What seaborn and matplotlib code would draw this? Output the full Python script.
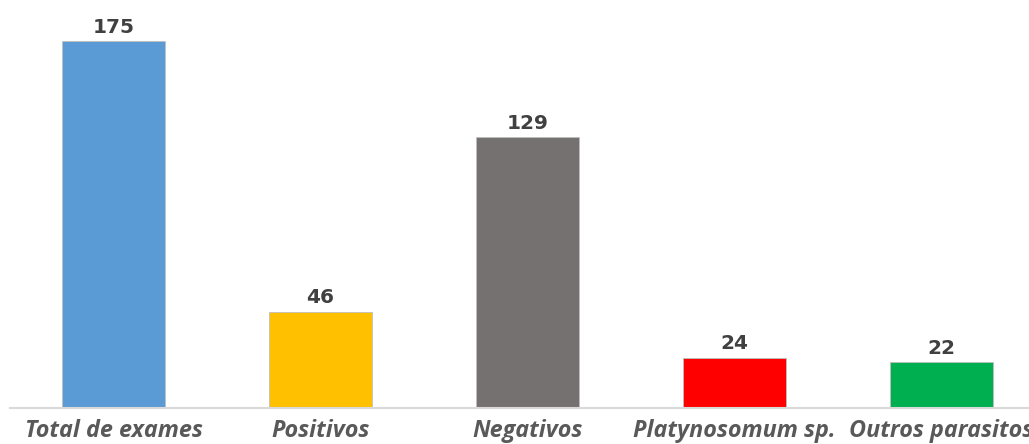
import matplotlib
matplotlib.use("Agg")
import matplotlib.pyplot as plt
import seaborn as sns
import pandas as pd

categories = ["Total de exames", "Positivos", "Negativos", "Platynosomum sp.", "Outros parasitos"]
values = [175, 46, 129, 24, 22]
colors = ["#5B9BD5", "#FFC000", "#767171", "#FF0000", "#00B050"]

sns.set_style("white")
plt.rcParams["font.family"] = ["Open Sans", "DejaVu Sans"]

df = pd.DataFrame({"cat": categories, "val": values})

W, H = 1029, 444
fig = plt.figure(figsize=(W / 100, H / 100), dpi=100)
ymax = 190
ppu = 2.097
ax_h = ymax * ppu
ax = fig.add_axes([10 / W, 36 / H, 1035 / W, ax_h / H])

sns.barplot(data=df, x="cat", y="val", hue="cat", palette=colors, dodge=False,
            saturation=1, width=0.5, legend=False, ax=ax,
            edgecolor="#BFBFBF", linewidth=0.6)

ax.set_ylim(0, ymax)
ax.set_xlim(-0.5, len(categories) - 0.5)
ax.set_xlabel("")
ax.set_ylabel("")
ax.set_yticks([])
for s in ["top", "right", "left"]:
    ax.spines[s].set_visible(False)
ax.spines["bottom"].set_color("#D9D9D9")
ax.spines["bottom"].set_linewidth(1.5)
ax.tick_params(axis="x", length=0, pad=8)
for lbl in ax.get_xticklabels():
    lbl.set_fontsize(16.8)
    lbl.set_fontweight("bold")
    lbl.set_fontstyle("italic")
    lbl.set_color("#595959")

for i, v in enumerate(values):
    ax.text(i, v + 2, str(v), ha="center", va="bottom", fontsize=14.5,
            fontweight="bold", color="#404040", family="DejaVu Sans")

fig.savefig("out.png", dpi=100)
